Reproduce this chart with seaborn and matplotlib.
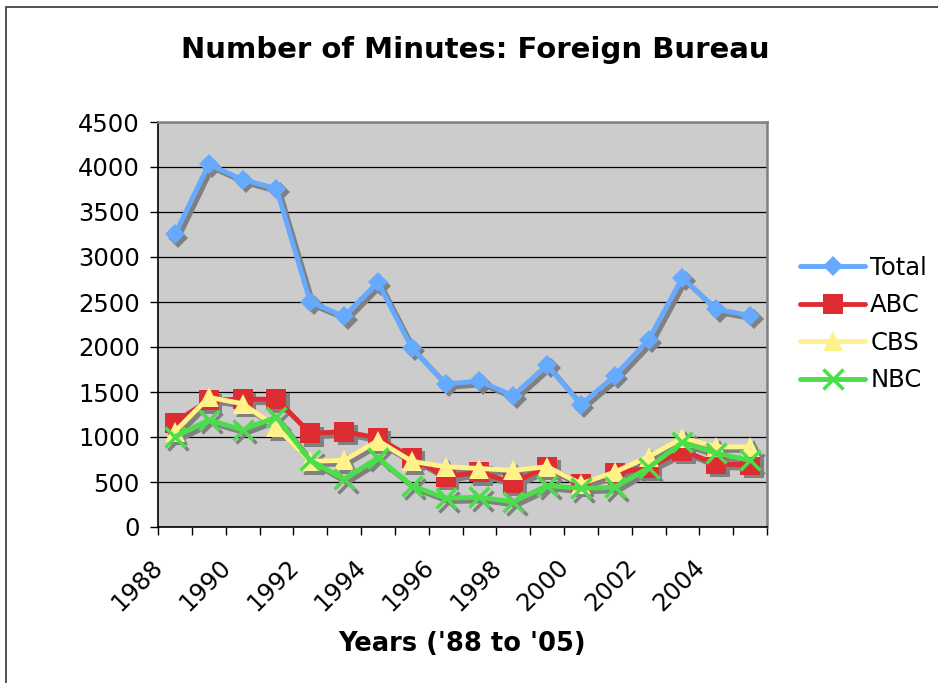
import matplotlib
matplotlib.use("Agg")
import matplotlib.pyplot as plt
import matplotlib.transforms as mtransforms
from matplotlib.patches import Rectangle
from matplotlib.ticker import MultipleLocator, FixedLocator
import pandas as pd
import seaborn as sns

years = list(range(1988, 2006))
total = [3250, 4030, 3860, 3760, 2500, 2340, 2720, 1990, 1590, 1620, 1460, 1800, 1360, 1680, 2080, 2770, 2420, 2350]
abc = [1160, 1410, 1420, 1420, 1040, 1060, 990, 770, 560, 610, 490, 670, 480, 600, 660, 850, 700, 690]
cbs = [1060, 1440, 1370, 1110, 730, 740, 960, 730, 670, 650, 630, 670, 480, 610, 780, 990, 890, 890]
nbc = [1000, 1190, 1080, 1220, 740, 530, 770, 460, 320, 330, 280, 460, 430, 440, 660, 940, 820, 740]
tick_years = list(range(1988, 2005, 2))

df = pd.DataFrame({"Year": years, "Total": total, "ABC": abc, "CBS": cbs, "NBC": nbc})

styles = {
    "Total": dict(color="#66AAFF", marker="D", markersize=10),
    "ABC": dict(color="#DD2D32", marker="s", markersize=14),
    "CBS": dict(color="#FFF28A", marker="^", markersize=14),
    "NBC": dict(color="#4CDD4C", marker="x", markersize=14),
}

sns.set_style("white")
plt.rcParams["font.family"] = ["DejaVu Sans"]
plt.rcParams["text.color"] = "black"
plt.rcParams["axes.labelcolor"] = "black"
plt.rcParams["xtick.color"] = "black"
plt.rcParams["ytick.color"] = "black"

fig = plt.figure(figsize=(9.38, 6.83), dpi=100)
W, H = 938, 683
ax = fig.add_axes([158 / W, 1 - 527 / H, (767 - 158) / W, (527 - 122) / H])
ax.set_facecolor("#CCCCCC")

shadow = ax.transData + mtransforms.ScaledTranslation(2.5 / 72, -2.5 / 72, fig.dpi_scale_trans)

for name, st in styles.items():
    mew = 2.5 if st["marker"] == "x" else 0
    # shadow first, then the coloured series on top
    ax.plot(df["Year"], df[name], color="#808080", lw=3.5, marker=st["marker"],
            markersize=st["markersize"], markeredgecolor="#808080", markeredgewidth=mew,
            transform=shadow, zorder=2, solid_joinstyle="round")
    sns.lineplot(data=df, x="Year", y=name, ax=ax, color=st["color"], lw=3.5,
                 marker=st["marker"], markersize=st["markersize"],
                 markeredgecolor=st["color"], markeredgewidth=mew,
                 label=name, zorder=3, solid_joinstyle="round")

ax.set_xticks(tick_years)
ax.set_xticklabels([str(y) for y in tick_years], rotation=45, ha="right",
                   rotation_mode="anchor", fontsize=17.5)
ax.xaxis.set_minor_locator(FixedLocator([y - 0.5 for y in years] + [2005.5]))
ax.set_xlim(1987.5, 2005.5)
ax.set_ylim(0, 4500)
ax.yaxis.set_major_locator(MultipleLocator(500))
ax.grid(axis="y", color="black", lw=0.9, zorder=1)
ax.set_axisbelow(True)

ax.tick_params(axis="x", which="major", length=0, pad=20)
ax.tick_params(axis="x", which="minor", length=6, width=1, color="black", direction="out", bottom=True)
ax.tick_params(axis="y", length=6, width=1, color="black", direction="out", left=True, labelsize=17.5, pad=7)

# Excel puts the rotated labels a little left of the category centre
shift = mtransforms.ScaledTranslation(-0.24, 0, fig.dpi_scale_trans)
for lab in ax.get_xticklabels():
    lab.set_transform(lab.get_transform() + shift)

for side in ["left", "bottom"]:
    ax.spines[side].set_color("black")
    ax.spines[side].set_linewidth(1.2)
for side in ["top", "right"]:
    ax.spines[side].set_color("#808080")
    ax.spines[side].set_linewidth(1.8)

ax.set_ylabel("")
ax.set_xlabel("Years ('88 to '05)", fontsize=18.5, fontweight="bold", labelpad=11)
fig.text(475 / W, 1 - 50 / H, "Number of Minutes: Foreign Bureau", fontsize=21,
         fontweight="bold", ha="center", va="center")

ax.legend(loc="center left", bbox_to_anchor=(790 / W, 1 - 324 / H), bbox_transform=fig.transFigure,
          frameon=False, fontsize=17.5, handlelength=2.7, handletextpad=0.2, labelspacing=0.55,
          borderaxespad=0)

fig.patches.append(Rectangle((6 / W, -0.1), 1.2, 1 - 7 / H + 0.1, transform=fig.transFigure,
                             fill=False, edgecolor="#333333", lw=1.2))

fig.savefig("out.png", dpi=100)
